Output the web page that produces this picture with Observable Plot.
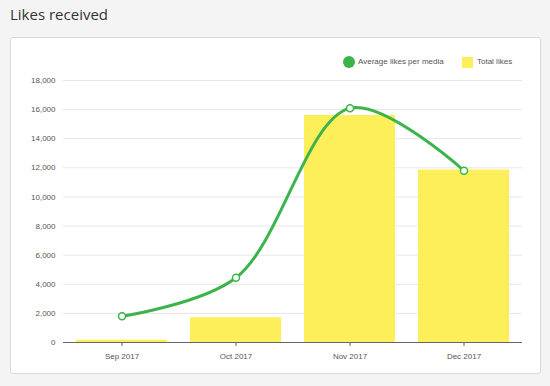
<!DOCTYPE html>
<html>
<head>
<meta charset="utf-8">
<script src="https://cdn.jsdelivr.net/npm/d3@7"></script>
<script src="https://cdn.jsdelivr.net/npm/@observablehq/plot@0.6"></script>
<style>
  html, body { margin: 0; padding: 0; background: #f4f4f4; width: 550px; height: 386px; overflow: hidden; position: relative; }
  #title { position: absolute; left: 10px; top: 4px; font: 15px "Open Sans", sans-serif; color: #333; }
  #card { position: absolute; left: 10px; top: 37px; width: 529px; height: 335px; background: #fff; border: 1px solid #d9d9d9; border-radius: 3px; }
  #chart { position: absolute; left: 0; top: 37px; }
  .leg { position: absolute; font: 8px "Liberation Sans", Arial, sans-serif; color: #555; }
  .sw { position: absolute; }
</style>
</head>
<body>
<div id="title">Likes received</div>
<div id="card"></div>
<div id="chart"></div>
<div class="sw" style="left:343px;top:56px;width:12px;height:12px;border-radius:50%;background:#3cb44b;"></div>
<div class="leg" style="left:358px;top:57px;">Average likes per media</div>
<div class="sw" style="left:462px;top:57px;width:11px;height:11px;background:#fdef5a;"></div>
<div class="leg" style="left:477px;top:57px;">Total likes</div>
<script>
const months = ["Sep 2017", "Oct 2017", "Nov 2017", "Dec 2017"];
const totalLikes = [160, 1700, 15600, 11850];
const avgLikes = [1800, 4450, 16100, 11800];
const yTicks = [0, 2000, 4000, 6000, 8000, 10000, 12000, 14000, 16000, 18000];

const data = months.map((m, i) => ({month: m, total: totalLikes[i], avg: avgLikes[i]}));

const chart = Plot.plot({
  width: 550,
  height: 349,
  marginLeft: 63,
  marginRight: 28,
  marginTop: 43,
  marginBottom: 44,
  style: {background: "transparent", fontFamily: "'Liberation Sans', Arial, sans-serif", fontSize: "8px", color: "#555"},
  x: {domain: months, paddingInner: 0.2, paddingOuter: 0.1, label: null},
  y: {domain: [0, 18000], label: null},
  marks: [
    Plot.gridY(yTicks, {stroke: "#e6e6e6", strokeOpacity: 1}),
    Plot.axisY(yTicks, {tickFormat: d3.format(","), tickSize: 0, tickPadding: 8, fill: "#555", label: null}),
    Plot.barY(data, {x: "month", y: "total", fill: "#fdef5a"}),
    Plot.ruleY([0], {stroke: "#666", strokeWidth: 1}),
    Plot.axisX({tickSize: 4, tickPadding: 7, stroke: "#666", fill: "#555", label: null}),
    Plot.line(data, {x: "month", y: "avg", stroke: "#3cb44b", strokeWidth: 3, curve: "catmull-rom"}),
    Plot.dot(data, {x: "month", y: "avg", r: 3.5, fill: "#fff", stroke: "#3cb44b", strokeWidth: 1.5})
  ]
});
document.getElementById("chart").appendChild(chart);
</script>
</body>
</html>
